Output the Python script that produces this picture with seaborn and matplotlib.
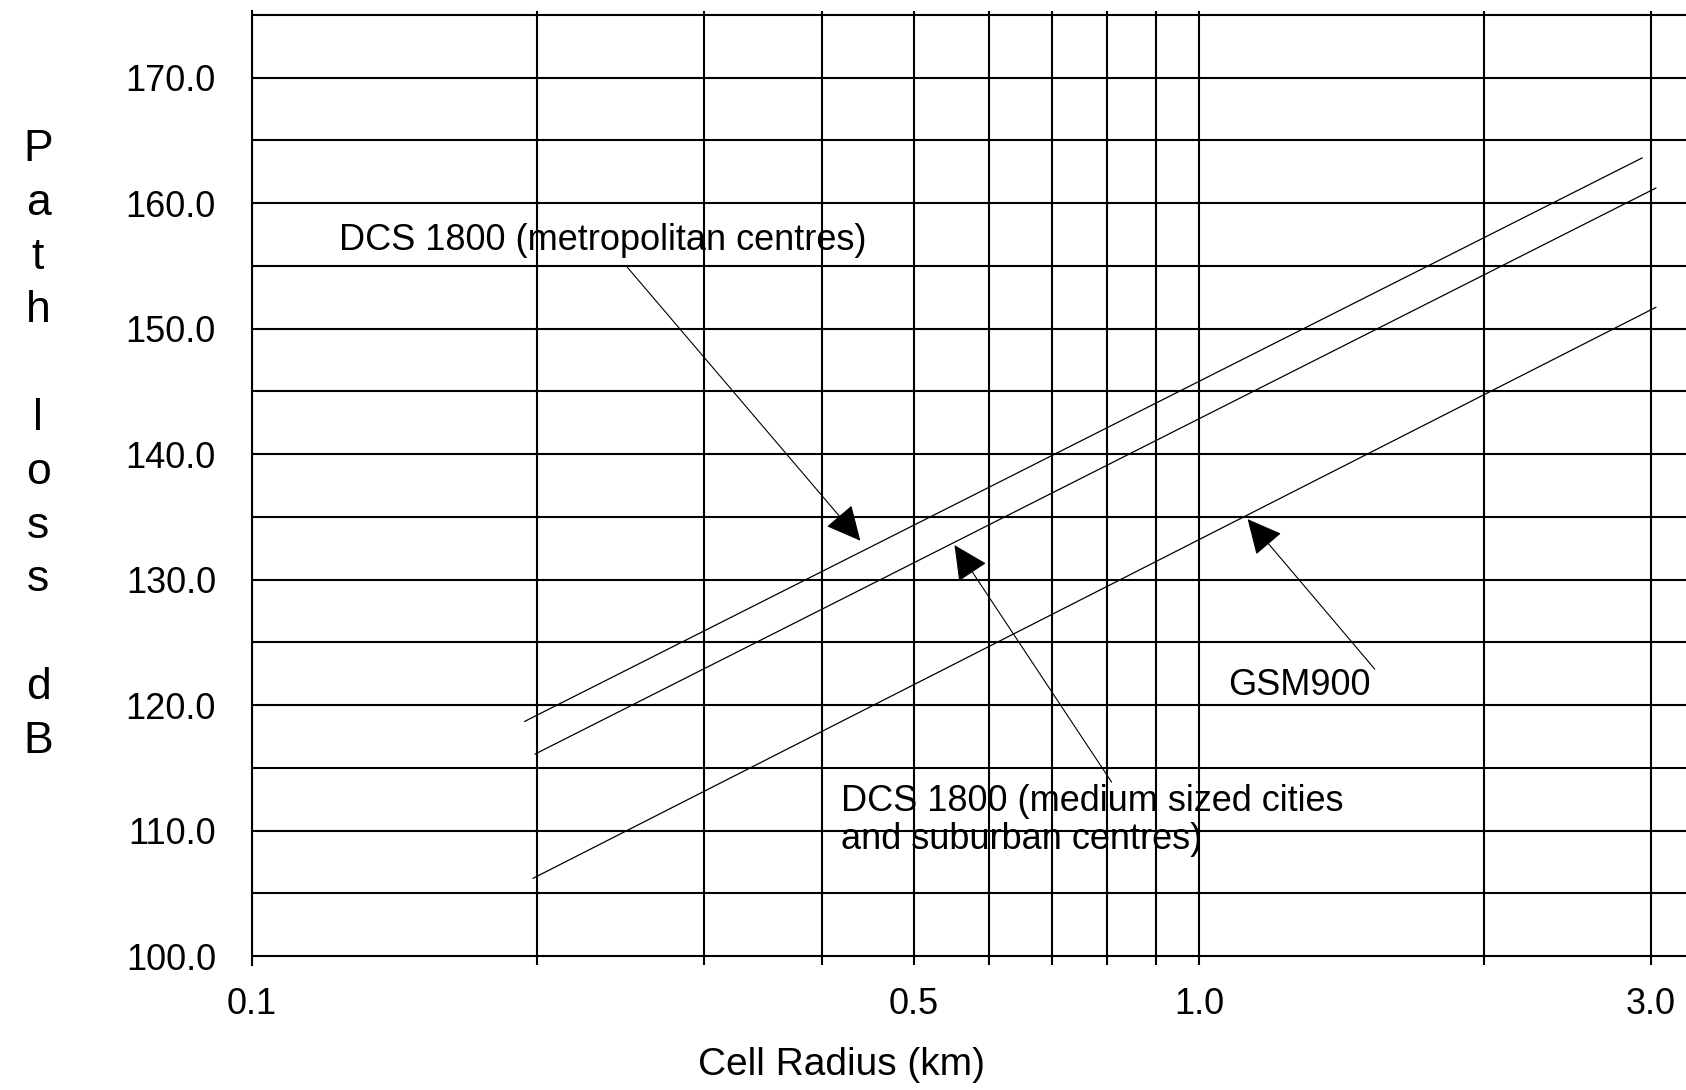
import numpy as np
import pandas as pd
import matplotlib
matplotlib.use("Agg")
import matplotlib.pyplot as plt
import seaborn as sns

sns.set_theme(style="white")
plt.rcParams['font.family'] = ['Liberation Sans', 'DejaVu Sans']
plt.rcParams['text.color'] = 'black'
plt.rcParams['xtick.color'] = 'black'
plt.rcParams['ytick.color'] = 'black'
plt.rcParams['axes.labelcolor'] = 'black'

# end points of each curve (cell radius in km, path loss in dB)
metro_km = [0.194, 2.94]
metro_db = [118.7, 163.6]
medium_km = [0.199, 3.04]
medium_db = [116.1, 161.2]
gsm_km = [0.198, 3.04]
gsm_db = [106.2, 151.7]

x_labelled = [0.1, 0.5, 1.0, 3.0]
x_labels = ["0.1", "0.5", "1.0", "3.0"]
x_grid = [0.2, 0.3, 0.4, 0.6, 0.7, 0.8, 0.9, 2.0]
y_labelled = [100, 110, 120, 130, 140, 150, 160, 170]
y_grid = [105, 115, 125, 135, 145, 155, 165, 175]

fig = plt.figure(figsize=(16.86, 10.9), dpi=100)
ax = fig.add_axes([0.1495, 0.1147, 0.8505, 0.8752])

for xs, ys in [(metro_km, metro_db), (medium_km, medium_db), (gsm_km, gsm_db)]:
    sns.lineplot(x=xs, y=ys, ax=ax, color="black", lw=0.9, sort=False)

ax.set_xscale("log")
ax.set_xlim(0.1, 3.27)
ax.set_ylim(99.3, 175.3)

ax.set_xticks(x_labelled)
ax.set_xticklabels(x_labels)
ax.set_xticks(x_grid, minor=True)
ax.set_xticklabels([], minor=True)
ax.set_yticks(y_labelled)
ax.set_yticklabels([f"{v:.1f}" for v in y_labelled])
ax.set_yticks(y_grid, minor=True)
ax.grid(True, which="both", color="black", lw=1.5)
ax.tick_params(which="both", length=0)
ax.tick_params(axis="x", pad=16, labelsize=26)
ax.tick_params(axis="y", pad=26, labelsize=26)
for s in ["top", "right", "bottom"]:
    ax.spines[s].set_visible(False)
ax.spines["left"].set_color("black")
ax.spines["left"].set_linewidth(1.5)

# labels and arrows
ax.text(0.1236, 157.05, "DCS 1800 (metropolitan centres)", fontsize=26,
        ha="left", va="center")
ax.text(0.419, 110.84, "DCS 1800 (medium sized cities\nand suburban centres)",
        fontsize=26, ha="left", va="center", linespacing=1.12)
ax.text(1.075, 121.6, "GSM900", fontsize=26, ha="left", va="center")

arrow = dict(arrowstyle="-|>,head_length=1.1,head_width=0.54", color="black",
             lw=0.8, shrinkA=0, shrinkB=0, mutation_scale=20)
ax.annotate("", xy=(0.439, 133.1), xytext=(0.249, 154.9), arrowprops=arrow)
ax.annotate("", xy=(0.552, 132.75), xytext=(0.809, 113.86), arrowprops=arrow)
ax.annotate("", xy=(1.126, 134.82), xytext=(1.534, 122.87), arrowprops=arrow)

# stacked y label
for i, ch in enumerate("Path loss dB"):
    fig.text(38 / 1686, 1 - (161 + i * 53.8) / 1090, ch, fontsize=32,
             ha="center", va="baseline")

fig.text(841 / 1686, 1 - 1065 / 1090, "Cell Radius (km)", fontsize=28,
         ha="center", va="center")

fig.savefig("out.png", dpi=100)
